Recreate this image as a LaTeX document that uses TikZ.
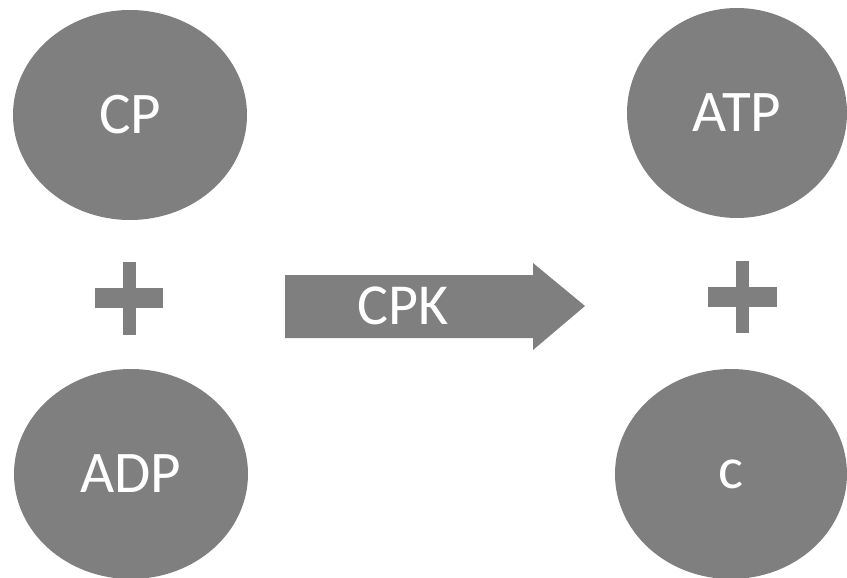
\documentclass[tikz,border=0pt]{standalone}
\usepackage{fontspec}
\setmainfont{Carlito}
\usepackage{tikz}
\usetikzlibrary{positioning,shapes.geometric}
\definecolor{molgray}{HTML}{7F7F7F}

\begin{document}
\begin{tikzpicture}[
    x=1pt, y=-1pt,
    mol/.style={ellipse, fill=molgray, text=white, inner sep=0pt,
                minimum width=234pt, minimum height=210pt,
                font=\fontsize{59}{62}\selectfont},
    plusbar/.style={fill=molgray},
    enzyme/.style={text=white, inner sep=0pt, font=\fontsize{58}{62}\selectfont},
]
\useasboundingbox (0,0) rectangle (847,578);

% substrates
\node[mol] (cp) at (130,115) {CP};
\node[mol] (adp) at (131,474) {ADP};

% products
\node[mol, minimum width=220pt] (atp) at (737,113) {ATP};
\node[mol, minimum width=232pt] (cr) at (731,474) {c};

% plus signs
\fill[plusbar] (95,288) rectangle (163,308);
\fill[plusbar] (123,262) rectangle (136,335);
\fill[plusbar] (708,287) rectangle (777,307);
\fill[plusbar] (736,261) rectangle (749,333);

% reaction arrow
\fill[molgray] (285,275) -- (533,275) -- (533,263) -- (585,306)
    -- (533,350) -- (533,338) -- (285,338) -- cycle;
\node[enzyme] (cpk) at (403,306) {CPK};

\end{tikzpicture}
\end{document}
